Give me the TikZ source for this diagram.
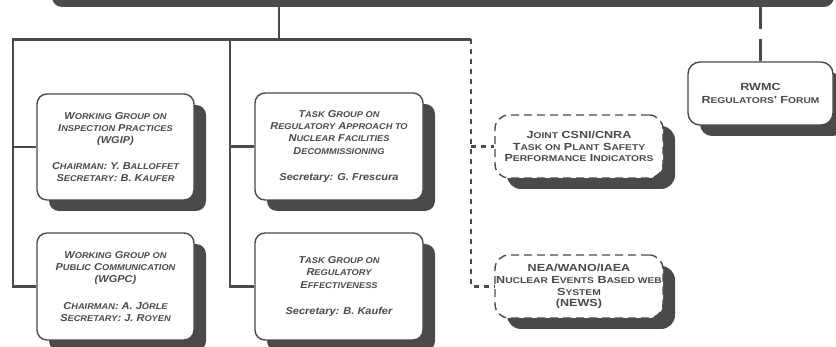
\documentclass[tikz,border=0pt]{standalone}
\usepackage{fontspec}
\usetikzlibrary{shadows}
% Arial-like faces, widened a little
\newfontfamily\itbox[FakeStretch=1.1]{Liberation Sans}
\newfontfamily\upbox[FakeStretch=1.22]{Liberation Sans}
\definecolor{ink}{HTML}{4A4A4A}
% small capitals made from a smaller size of the capitals
\newcommand\lc[1]{{\fontsize{8.4}{8.4}\selectfont #1}}
\tikzset{
  unit/.style={draw=ink, line width=1.4pt, rounded corners=10pt, fill=white,
    align=center, text=ink, inner sep=0pt,
    drop shadow={shadow xshift=12pt, shadow yshift=-11pt, fill=ink, opacity=1}},
  group/.style={unit, font=\itbox\bfseries\itshape\fontsize{10}{12.2}\selectfont},
  liaison/.style={unit, rounded corners=14pt, dash pattern=on 8pt off 5pt,
    font=\upbox\bfseries\fontsize{10.3}{11.8}\selectfont},
  forum/.style={unit, rounded corners=12pt, font=\upbox\bfseries\fontsize{10.3}{13}\selectfont},
  wire/.style={draw=ink, line width=2.2pt},
  dotwire/.style={wire, dash pattern=on 5pt off 5pt},
  longwire/.style={wire, dash pattern=on 22pt off 10pt},
}
\begin{document}
\begin{tikzpicture}[x=1pt, y=-1pt]
\useasboundingbox (0,0) rectangle (836,347);

% committee bar along the top edge
\node[fill=ink, rounded corners=10pt, minimum width=782pt, minimum height=30pt,
  inner sep=0pt] (top) at (443,-8) {};

% working and task groups
\node[group, minimum width=157pt, minimum height=106pt] (wgip) at (115.5,147)
  {W\lc{ORKING} G\lc{ROUP ON}\\ I\lc{NSPECTION} P\lc{RACTICES}\\ (WGIP)\\[14pt]
   C\lc{HAIRMAN}: Y. B\lc{ALLOFFET}\\ S\lc{ECRETARY}: B. K\lc{AUFER}};
\node[group, minimum width=157pt, minimum height=107pt] (wgpc) at (115.5,286.5)
  {W\lc{ORKING} G\lc{ROUP ON}\\ P\lc{UBLIC} C\lc{OMMUNICATION}\\ (WGPC)\\[14pt]
   C\lc{HAIRMAN}: A. J\lc{ÖRLE}\\ S\lc{ECRETARY}: J. R\lc{OYEN}};
\node[group, minimum width=168pt, minimum height=107pt] (tgd) at (339,146.5)
  {T\lc{ASK} G\lc{ROUP ON}\\ R\lc{EGULATORY} A\lc{PPROACH TO}\\ N\lc{UCLEAR} F\lc{ACILITIES}\\
   D\lc{ECOMMISSIONING}\\[14pt] Secretary: G. Frescura};
\node[group, minimum width=168pt, minimum height=107pt] (tge) at (339,286.5)
  {T\lc{ASK} G\lc{ROUP ON}\\ R\lc{EGULATORY}\\ E\lc{FFECTIVENESS}\\[14pt] Secretary: B. Kaufer};

% joint bodies
\node[liaison, minimum width=168pt, minimum height=63pt] (joint) at (579,146.5)
  {J\lc{OINT} CSNI/CNRA\\ T\lc{ASK ON} P\lc{LANT} S\lc{AFETY}\\ P\lc{ERFORMANCE} I\lc{NDICATORS}};
\node[liaison, minimum width=168pt, minimum height=63pt] (news) at (579,286.5)
  {NEA/WANO/IAEA\\ N\lc{UCLEAR} E\lc{VENTS} B\lc{ASED WEB}\\ S\lc{YSTEM}\\ (NEWS)};

% forum under the radioactive waste committee
\node[forum, minimum width=145pt, minimum height=63pt] (rwmc) at (760.5,93.5)
  {RWMC\\ R\lc{EGULATORS}' F\lc{ORUM}};

% tree of connectors
\coordinate (hub) at (279,39.5);
\coordinate (hl) at (13,39.5);
\coordinate (hm) at (230,39.5);
\coordinate (hr) at (471,39.5);

\draw[wire] (top.south -| hub) -- (hub);
\draw[wire] (wgpc.west) -| (hl) -- (hr);
\draw[wire] (hl |- wgip.west) -- (wgip.west);
\draw[wire] (tge.west) -| (hm);
\draw[wire] (hm |- tgd.west) -- (tgd.west);
\draw[dotwire] (hr) |- (news.west);
\draw[dotwire] (hr |- joint.west) -- (joint.west);
\draw[longwire] (top.south -| rwmc.north) -- (rwmc.north);
\end{tikzpicture}
\end{document}
